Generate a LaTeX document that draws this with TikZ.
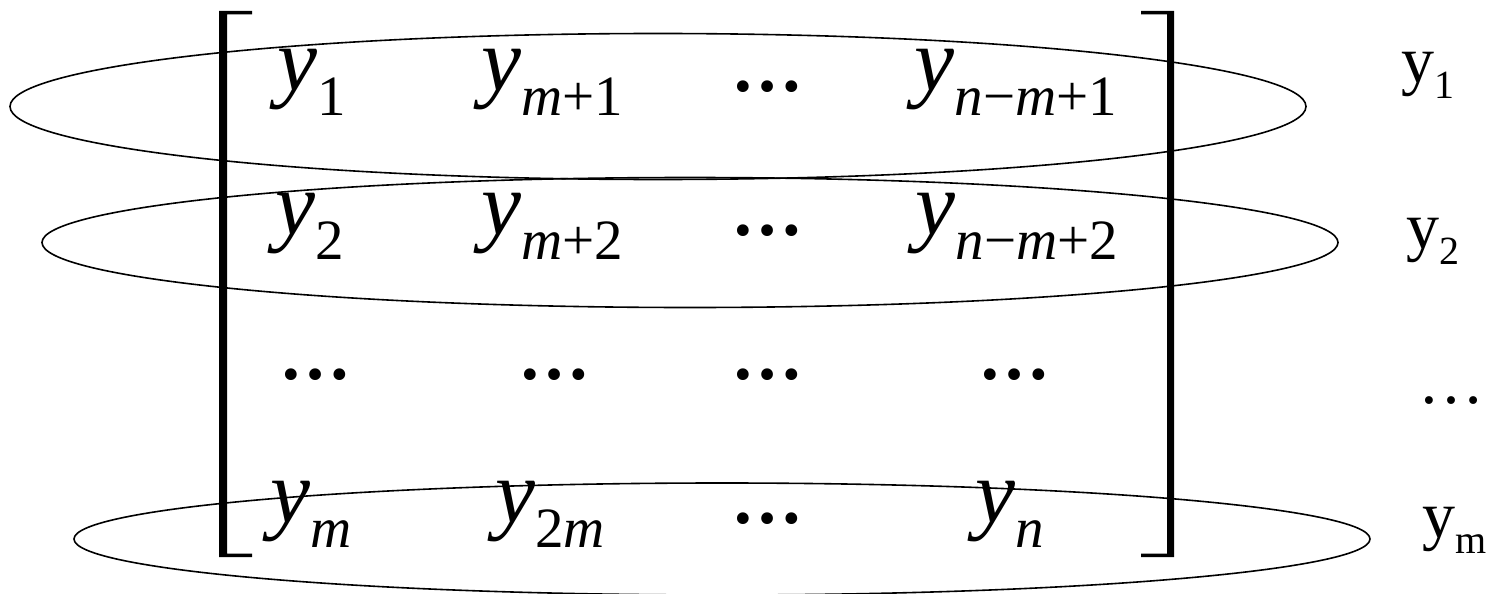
\documentclass[tikz,border=0pt]{standalone}
\usepackage{fontspec}
\setmainfont{Liberation Serif}[ItalicFont={Liberation Serif Italic},BoldFont={Liberation Serif Bold}]
\newcommand\mainfs{\fontsize{90}{90}\selectfont}
\newcommand\subfs{\fontsize{57}{57}\selectfont}
\newcommand\lblfs{\fontsize{66}{66}\selectfont}
\newcommand\lblsubfs{\fontsize{40}{40}\selectfont}
\newcommand\my[1]{{\mainfs\itshape y}\raisebox{-25pt}{\subfs #1}}
\newcommand\ly[1]{{\lblfs y}\raisebox{-16pt}{\lblsubfs #1}}
\newcommand\mdots{{\fontsize{72}{72}\selectfont\bfseries …}}
\newcommand\iv[1]{\textit{#1}}
\tikzset{
  entry/.style={inner sep=0pt, anchor=base},
  ring/.style={line width=1.6pt},
  brk/.style={fill=black, draw=none}
}
\begin{document}
\begin{tikzpicture}[x=1pt,y=-1pt]
\useasboundingbox (0,0) rectangle (1497,594);
% brackets
\fill[brk] (219,11) -- (252,11) -- (252,14.5) -- (227,14.5) -- (227,553.5) -- (252,553.5) -- (252,557) -- (219,557) -- cycle;
\fill[brk] (1174,11) -- (1141,11) -- (1141,14.5) -- (1167,14.5) -- (1167,553.5) -- (1141,553.5) -- (1141,557) -- (1174,557) -- cycle;
% ellipses
\draw[ring] (658,106.5) ellipse [x radius=648pt, y radius=73pt];
\draw[ring] (690,242.5) ellipse [x radius=648pt, y radius=65pt];
\draw[ring] (722,539) ellipse [x radius=648pt, y radius=56pt];
% row 1
\node[entry] (a11) at (312,90) {\my{1}};
\node[entry] (a12) at (552,90) {\my{\iv{m}+1}};
\node[entry] (a13) at (767,92) {\mdots};
\node[entry] (a14) at (1016,90) {\my{\iv{n}−\iv{m}+1}};
% row 2
\node[entry] (a21) at (310,234) {\my{2}};
\node[entry] (a22) at (552,234) {\my{\iv{m}+2}};
\node[entry] (a23) at (767,235) {\mdots};
\node[entry] (a24) at (1017,234) {\my{\iv{n}−\iv{m}+2}};
% row 3
\node[entry] (a31) at (315,379) {\mdots};
\node[entry] (a32) at (554,379) {\mdots};
\node[entry] (a33) at (767,379) {\mdots};
\node[entry] (a34) at (1014,379) {\mdots};
% row 4
\node[entry] (a41) at (311,522) {\my{\iv{m}}};
\node[entry] (a42) at (550,522) {\my{2\iv{m}}};
\node[entry] (a43) at (767,523) {\mdots};
\node[entry] (a44) at (1010,522) {\my{\iv{n}}};
% labels
\node[entry] (l1) at (1428,83) {\ly{1}};
\node[entry] (l2) at (1433,248) {\ly{2}};
\node[entry] (l3) at (1451,403) {\lblfs …};
\node[entry] (l4) at (1455,537) {\ly{m}};
\end{tikzpicture}
\end{document}
